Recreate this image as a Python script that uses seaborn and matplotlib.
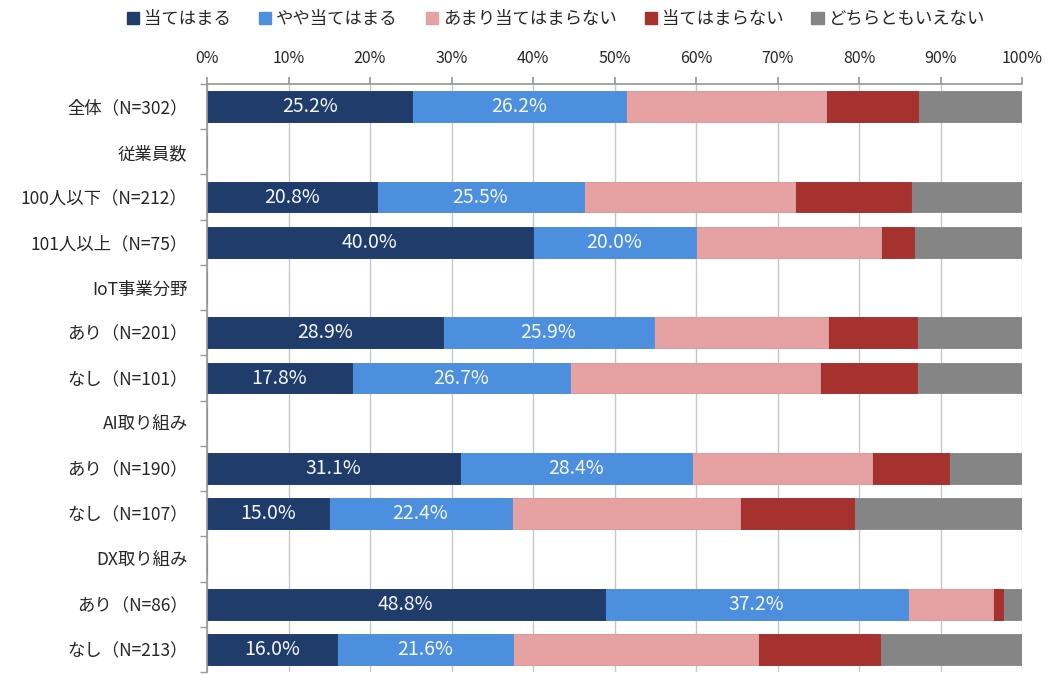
import numpy as np
import pandas as pd
import matplotlib
matplotlib.use("Agg")
import matplotlib.pyplot as plt
import matplotlib.ticker as mticker
from matplotlib.patches import Patch
import seaborn as sns

# ── Data ─────────────────────────────────────────────────────────────────────
categories = ["全体（N=302）", "従業員数", "100人以下（N=212）", "101人以上（N=75）",
              "IoT事業分野", "あり（N=201）", "なし（N=101）",
              "AI取り組み", "あり（N=190） ", "なし（N=107） ",
              "DX取り組み", "あり（N=86）", "なし（N=213）"]
series = ["当てはまる", "やや当てはまる", "あまり当てはまらない", "当てはまらない", "どちらともいえない"]

atehamaru      = [25.2, 0, 20.8, 40.0, 0, 28.9, 17.8, 0, 31.1, 15.0, 0, 48.8, 16.0]
yaya_atehamaru = [26.2, 0, 25.5, 20.0, 0, 25.9, 26.7, 0, 28.4, 22.4, 0, 37.2, 21.6]
amari          = [24.5, 0, 25.9, 22.7, 0, 21.4, 30.7, 0, 22.1, 28.0, 0, 10.5, 30.0]
atehamaranai   = [11.3, 0, 14.2, 4.0, 0, 10.9, 11.9, 0, 9.5, 14.0, 0, 1.2, 15.0]
dochiramo      = [12.8, 0, 13.6, 13.3, 0, 12.9, 12.9, 0, 8.9, 20.6, 0, 2.3, 17.4]

colors = ["#1F3C6B", "#4C8FDF", "#E6A2A2", "#A5322F", "#858585"]

df = pd.DataFrame({"category": categories,
                   series[0]: atehamaru, series[1]: yaya_atehamaru,
                   series[2]: amari, series[3]: atehamaranai, series[4]: dochiramo})
cum = df[series].cumsum(axis=1)
cum["category"] = df["category"]

# ── Style ────────────────────────────────────────────────────────────────────
sns.set_theme(style="white")
plt.rcParams["font.family"] = ["Noto Sans CJK JP", "DejaVu Sans"]

fig = plt.figure(figsize=(10.51, 6.75), dpi=100)
ax = fig.add_axes([207 / 1051, 3 / 675, 815 / 1051, 588 / 675])

# stacked bars: draw cumulative totals from the back to the front
for s, c in reversed(list(zip(series, colors))):
    sns.barplot(data=cum, y="category", x=s, order=categories, orient="h",
                color=c, width=0.68, ax=ax, edgecolor=c, linewidth=0.6,
                saturation=1)

# white value labels for the first two series
for i in range(len(categories)):
    left = 0
    for j, s in enumerate(series[:2]):
        v = df[s].iloc[i]
        if v > 0:
            ax.text(left + v / 2, i, f"{v:.1f}%", ha="center", va="center",
                    color="#F4F6FA", fontsize=14)
        left += v

ax.set_xlim(0, 100)
ax.set_ylim(len(categories) - 0.5, -0.5)
ax.xaxis.tick_top()
ax.xaxis.set_major_locator(mticker.MultipleLocator(10))
ax.xaxis.set_major_formatter(mticker.FuncFormatter(lambda x, _: f"{x:.0f}%"))
ax.tick_params(axis="x", length=5, pad=7, labelsize=11.5, color="#999999")
ax.grid(axis="x", color="#C8C8C8", linewidth=1)
ax.set_axisbelow(True)
ax.set_xlabel("")
ax.set_ylabel("")

ax.set_yticks(range(len(categories)))
ax.set_yticklabels([c.strip() for c in categories])
ax.set_yticks(np.arange(-0.5, len(categories), 1), minor=True)
ax.tick_params(axis="y", which="major", length=0, pad=14, labelsize=12.5)
ax.tick_params(axis="y", which="minor", length=5, color="#999999", left=True)

for side in ["right", "bottom"]:
    ax.spines[side].set_visible(False)
for side in ["left", "top"]:
    ax.spines[side].set_color("#999999")

handles = [Patch(facecolor=c, edgecolor=c) for c in colors]
fig.legend(handles, series, loc="center", bbox_to_anchor=(556 / 1051, 0.972),
           ncol=5, frameon=False, fontsize=12.5, handlelength=0.7,
           handleheight=0.7, handletextpad=0.3, columnspacing=1.6)

plt.savefig("out.png", dpi=100)
plt.close()
